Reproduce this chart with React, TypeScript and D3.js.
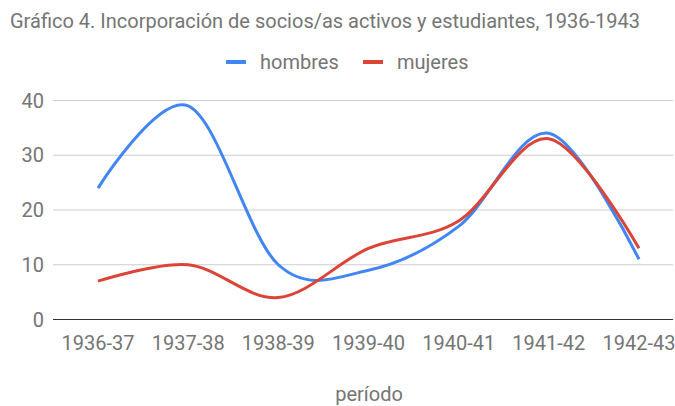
import { useEffect, useRef } from 'react';
import * as d3 from 'd3';

// Chart data
const periods = ['1936-37', '1937-38', '1938-39', '1939-40', '1940-41', '1941-42', '1942-43'];
const hombres = [24, 39, 10, 9, 17, 34, 11];
const mujeres = [7, 10, 4, 13, 18, 33, 13];
const yTicks = [0, 10, 20, 30, 40];

const SERIES = [
    { name: 'hombres', values: hombres, color: '#4285F4' },
    { name: 'mujeres', values: mujeres, color: '#DB4437' },
];

const WIDTH = 675;
const HEIGHT = 406;
const FONT = 'Roboto, sans-serif';
const FONT_SIZE = '20px';
const TEXT_COLOR = '#757575';

export default function App() {
    const svgRef = useRef<SVGSVGElement | null>(null);

    useEffect(() => {
        const svg = d3.select(svgRef.current);
        svg.selectAll('*').remove();

        const plotLeft = 53;
        const plotRight = 673;

        const x = d3.scalePoint<string>()
            .domain(periods)
            .range([98, 639]);

        const y = d3.scaleLinear()
            .domain([0, 40])
            .range([319.5, 100.5]);

        // Title
        svg.append('text')
            .attr('x', 10)
            .attr('y', 28)
            .style('font-family', FONT)
            .style('font-size', FONT_SIZE)
            .style('fill', TEXT_COLOR)
            .text('Gráfico 4. Incorporación de socios/as activos y estudiantes, 1936-1943');

        // Legend
        const legend = svg.append('g');
        const legendItems = [
            { x: 226, textX: 260 },
            { x: 363, textX: 397 },
        ];
        SERIES.forEach((s, i) => {
            legend.append('rect')
                .attr('x', legendItems[i].x)
                .attr('y', 60)
                .attr('width', 20)
                .attr('height', 4)
                .attr('fill', s.color);
            legend.append('text')
                .attr('x', legendItems[i].textX)
                .attr('y', 69)
                .style('font-family', FONT)
                .style('font-size', FONT_SIZE)
                .style('fill', TEXT_COLOR)
                .text(s.name);
        });

        // Gridlines + y labels
        const grid = svg.append('g');
        yTicks.forEach(t => {
            grid.append('line')
                .attr('x1', plotLeft)
                .attr('x2', plotRight)
                .attr('y1', y(t))
                .attr('y2', y(t))
                .attr('stroke', t === 0 ? '#333333' : '#cccccc')
                .attr('stroke-width', 1);
            grid.append('text')
                .attr('x', 44)
                .attr('y', y(t))
                .attr('dy', '0.36em')
                .attr('text-anchor', 'end')
                .style('font-family', FONT)
                .style('font-size', FONT_SIZE)
                .style('fill', TEXT_COLOR)
                .text(String(t));
        });

        // X labels
        svg.append('g')
            .selectAll('text')
            .data(periods)
            .enter()
            .append('text')
            .attr('x', d => x(d) as number)
            .attr('y', 350)
            .attr('text-anchor', 'middle')
            .style('font-family', FONT)
            .style('font-size', FONT_SIZE)
            .style('fill', TEXT_COLOR)
            .text(d => d);

        // X axis title
        svg.append('text')
            .attr('x', 369)
            .attr('y', 401)
            .attr('text-anchor', 'middle')
            .style('font-family', FONT)
            .style('font-size', FONT_SIZE)
            .style('fill', TEXT_COLOR)
            .text('período');

        // Smoothed lines
        const line = d3.line<number>()
            .x((_, i) => x(periods[i]) as number)
            .y(d => y(d))
            .curve(d3.curveCardinal.tension(0));

        SERIES.forEach(s => {
            svg.append('path')
                .datum(s.values)
                .attr('fill', 'none')
                .attr('stroke', s.color)
                .attr('stroke-width', 3)
                .attr('stroke-linejoin', 'round')
                .attr('d', line);
        });
    }, []);

    return (
        <svg
            ref={svgRef}
            width={WIDTH}
            height={HEIGHT}
            style={{ display: 'block', position: 'absolute', left: 0, top: 0, background: '#fff' }}
        />
    );
}
